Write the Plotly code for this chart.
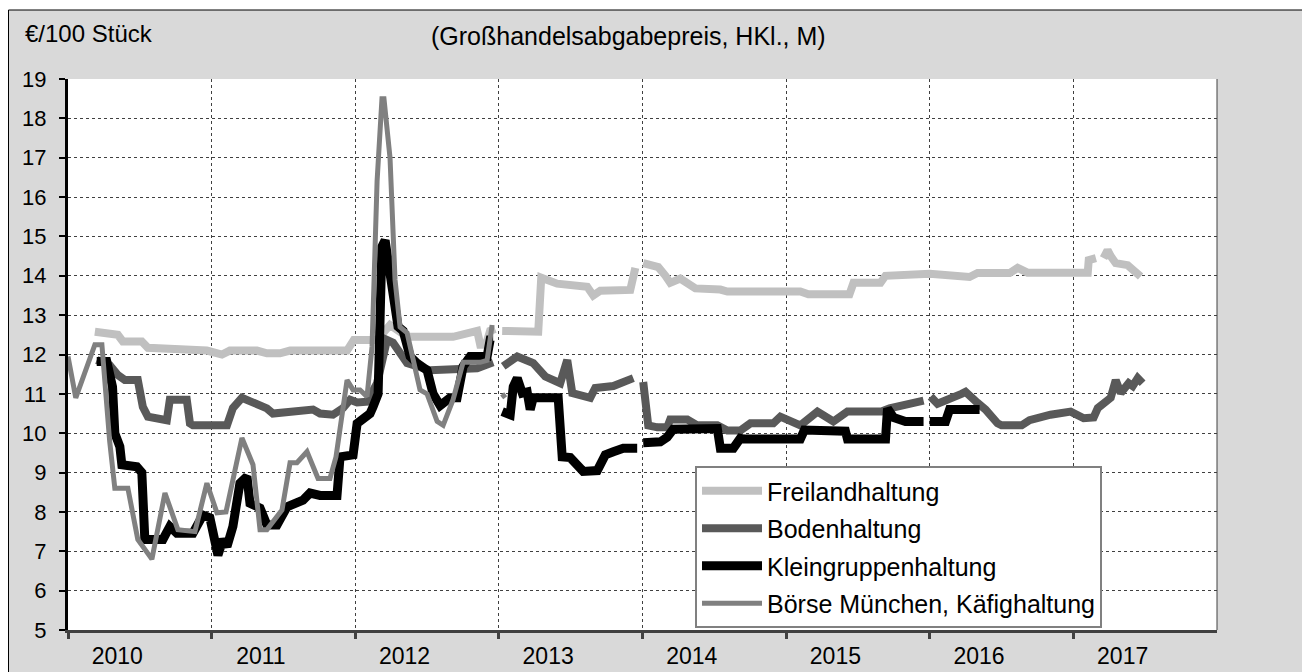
import plotly.graph_objects as go

# ---------------- data (decimal years, €/100 Stück) ----------------
years = [2010, 2011, 2012, 2013, 2014, 2015, 2016, 2017]
year_labels = [str(y) for y in years]

frei_x = [2010.187, 2010.236, 2010.347, 2010.382, 2010.514, 2010.556, 2010.870, 2010.967, 2011.072, 2011.127,
          2011.316, 2011.385, 2011.476, 2011.546, 2011.943, 2011.990, 2012.152, 2012.242, 2012.361, 2012.681,
          2012.849, 2012.870, 2012.910, 2012.939, 2012.974, None,
          2013.023, 2013.274, 2013.295, 2013.406, 2013.615, 2013.657, 2013.706, 2013.915, 2013.950, None,
          2014.005, 2014.110, 2014.160, 2014.193, 2014.263, 2014.368, 2014.542, 2014.591, 2015.099, 2015.155,
          2015.441, 2015.469, 2015.657, 2015.692, 2016.000, 2016.277, 2016.333, 2016.556, 2016.612, 2016.681,
          2017.100, 2017.107, 2017.157, None,
          2017.210, 2017.238, 2017.260, 2017.295, 2017.378, 2017.420, 2017.468]
frei_y = [12.58, 12.55, 12.5, 12.33, 12.33, 12.17, 12.15, 12.1, 12.0, 12.1,
          12.1, 12.03, 12.03, 12.1, 12.1, 12.37, 12.37, 12.75, 12.45, 12.45,
          12.6, 12.25, 12.25, 12.6, 12.65, None,
          12.6, 12.58, 13.95, 13.8, 13.72, 13.5, 13.62, 13.64, 14.2, None,
          14.32, 14.22, 14.0, 13.82, 13.93, 13.68, 13.65, 13.6, 13.6, 13.53,
          13.53, 13.82, 13.82, 14.0, 14.05, 13.97, 14.07, 14.07, 14.2, 14.08,
          14.08, 14.4, 14.45, None,
          14.45, 14.65, 14.5, 14.32, 14.27, 14.15, 13.98]

boden_x = [2010.200, 2010.290, 2010.347, 2010.396, 2010.486, 2010.521, 2010.556, 2010.640, 2010.688, 2010.709,
           2010.827, 2010.849, 2010.870, 2011.107, 2011.148, 2011.211, 2011.288, 2011.337, 2011.385, 2011.427,
           2011.615, 2011.706, 2011.755, 2011.845, 2011.915, 2011.964, 2012.013, 2012.082, 2012.152, 2012.221,
           2012.263, 2012.312, 2012.361, 2012.430, 2012.521, 2012.849, 2012.960, None,
           2013.030, 2013.128, 2013.239, 2013.323, 2013.427, 2013.476, 2013.511, 2013.636, 2013.671, 2013.797,
           2013.936, None,
           2014.005, 2014.040, 2014.103, 2014.172, 2014.193, 2014.312, 2014.382, 2014.521, 2014.591, 2014.681,
           2014.751, 2014.911, 2014.960, 2015.099, 2015.218, 2015.329, 2015.427, 2015.664, 2015.720, 2015.943,
           2015.957, None,
           2016.006, 2016.054, 2016.221, 2016.249, 2016.333, 2016.389, 2016.472, 2016.500, 2016.640, 2016.695,
           2016.841, 2016.981, 2017.072, 2017.141, 2017.170, 2017.260, 2017.295, 2017.330, 2017.385, 2017.413,
           2017.448, 2017.482]
boden_y = [11.86, 11.73, 11.48, 11.35, 11.35, 10.67, 10.42, 10.33, 10.33, 10.85,
           10.85, 10.25, 10.2, 10.2, 10.64, 10.9, 10.8, 10.7, 10.63, 10.5,
           10.55, 10.6, 10.5, 10.47, 10.64, 10.85, 10.78, 10.8, 11.27, 12.37,
           12.3, 12.07, 11.78, 11.7, 11.6, 11.65, 11.8, None,
           11.7, 11.95, 11.78, 11.44, 11.27, 11.86, 11.02, 10.9, 11.15, 11.2,
           11.4, None,
           11.3, 10.2, 10.15, 10.15, 10.35, 10.35, 10.2, 10.2, 10.07, 10.07,
           10.25, 10.25, 10.42, 10.2, 10.55, 10.3, 10.55, 10.55, 10.63, 10.8,
           10.83, None,
           10.93, 10.75, 11.0, 11.05, 10.77, 10.6, 10.25, 10.2, 10.2, 10.33,
           10.47, 10.55, 10.38, 10.4, 10.64, 10.9, 11.35, 11.02, 11.27, 11.2,
           11.4, 11.27]

klein_x = [2010.200, 2010.270, 2010.310, 2010.326, 2010.361, 2010.375, 2010.479, 2010.514, 2010.535, 2010.661,
           2010.709, 2010.758, 2010.870, 2010.939, 2010.988, 2011.044, 2011.079, 2011.107, 2011.148, 2011.197,
           2011.246, 2011.267, 2011.337, 2011.385, 2011.455, 2011.525, 2011.636, 2011.685, 2011.755, 2011.873,
           2011.894, 2011.985, 2012.013, 2012.103, 2012.124, 2012.159, 2012.186, 2012.208, 2012.228, 2012.263,
           2012.298, 2012.333, 2012.382, 2012.430, 2012.500, 2012.542, 2012.591, 2012.661, 2012.709, 2012.751,
           2012.800, 2012.918, 2012.939, 2012.960, None,
           2013.023, 2013.079, 2013.100, 2013.128, 2013.163, 2013.197, 2013.218, 2013.239, 2013.413, 2013.441,
           2013.497, 2013.545, 2013.587, 2013.685, 2013.741, 2013.797, 2013.866, 2013.963, None,
           2014.005, 2014.124, 2014.172, 2014.214, 2014.521, 2014.542, 2014.633, 2014.681, 2014.709, 2015.099,
           2015.127, 2015.413, 2015.427, 2015.692, 2015.706, 2015.748, 2015.831, 2015.957, None,
           2016.000, 2016.110, 2016.138, 2016.347]
klein_y = [11.82, 11.82, 11.18, 10.0, 9.66, 9.2, 9.15, 9.0, 7.3, 7.3,
           7.63, 7.46, 7.46, 7.92, 7.85, 6.9, 7.3, 7.12, 7.63, 8.73,
           8.9, 8.22, 8.1, 7.67, 7.67, 8.13, 8.3, 8.48, 8.42, 8.42,
           9.4, 9.45, 10.25, 10.5, 10.67, 11.0, 14.74, 14.9, 14.4, 13.47,
           12.71, 12.6, 11.95, 11.78, 11.6, 11.0, 10.7, 10.9, 10.9, 11.7,
           11.95, 11.95, 12.37, 12.37, None,
           10.55, 10.47, 11.18, 11.4, 11.02, 11.05, 10.6, 10.9, 10.9, 9.4,
           9.38, 9.15, 9.03, 9.05, 9.45, 9.53, 9.62, 9.62, None,
           9.76, 9.78, 9.9, 10.1, 10.12, 9.62, 9.62, 9.87, 9.85, 9.85,
           10.08, 10.05, 9.85, 9.85, 10.63, 10.4, 10.3, 10.3, None,
           10.3, 10.3, 10.6, 10.6]

boerse_x = [2010.000, 2010.054, 2010.187, 2010.236, 2010.290, 2010.326, 2010.417, 2010.486, 2010.584, 2010.675,
            2010.765, 2010.884, 2010.967, 2011.037, 2011.100, 2011.211, 2011.288, 2011.337, 2011.385, 2011.430,
            2011.490, 2011.546, 2011.594, 2011.664, 2011.741, 2011.824, 2011.866, 2011.943, 2011.985, 2012.033,
            2012.082, 2012.117, 2012.152, 2012.186, 2012.200, 2012.242, 2012.277, 2012.312, 2012.361, 2012.451,
            2012.500, 2012.570, 2012.612, 2012.681, 2012.751, 2012.870, 2012.918, 2012.953, None,
            2013.023, 2013.044]
boerse_y = [11.95, 10.9, 12.25, 12.25, 9.8, 8.6, 8.6, 7.3, 6.8, 8.48,
            7.55, 7.5, 8.73, 7.98, 8.0, 9.88, 9.2, 7.55, 7.55, 7.75,
            8.05, 9.25, 9.25, 9.53, 8.85, 8.85, 9.4, 11.35, 11.1, 11.1,
            10.93, 12.2, 16.4, 18.5, 18.5, 17.0, 13.9, 12.7, 12.55, 11.1,
            11.0, 10.3, 10.2, 10.85, 11.8, 11.8, 11.85, 12.75, None,
            11.0, 10.9]

series = [
    ("Freilandhaltung", frei_x, frei_y, "#c0c0c0", 8),
    ("Bodenhaltung", boden_x, boden_y, "#595959", 8),
    ("Kleingruppenhaltung", klein_x, klein_y, "#000000", 9),
    ("Börse München, Käfighaltung", boerse_x, boerse_y, "#808080", 5),
]

FONT = "Liberation Sans, Arial, sans-serif"

fig = go.Figure()
for i, (name, xs, ys, color, w) in enumerate(series):
    fig.add_trace(go.Scatter(
        x=xs, y=ys, name=name, mode="lines",
        line=dict(color=color, width=w),
        connectgaps=False, hoverinfo="skip",
        legendgroup=f"g{i}",
    ))

# The page body adds an 8px offset; figure is sized so that it fills the window.
OFF = 8
W, H = 1310 - OFF, 672 - OFF
# plot area in screen pixels: x 68..1217, y 79..630
L, R, T, B = 68 - OFF, 1217 - OFF, 79 - OFF, 630 - OFF


def px(xs):  # screen x -> paper
    return (xs - OFF - L) / (R - L)


def py(ys):  # screen y -> paper
    return (B - (ys - OFF)) / (B - T)


shapes = [
    # white strip above the outer frame
    dict(type="rect", xref="paper", yref="paper", x0=px(0), x1=px(1320), y0=py(10), y1=py(0),
         fillcolor="white", line=dict(width=0), layer="below"),
    # white strip right of the outer frame
    dict(type="rect", xref="paper", yref="paper", x0=px(1305), x1=px(1320), y0=py(700), y1=py(0),
         fillcolor="white", line=dict(width=0), layer="below"),
    # outer frame
    dict(type="rect", xref="paper", yref="paper", x0=px(8.5), x1=px(1305), y0=py(700), y1=py(10),
         line=dict(color="#000000", width=1), layer="below"),
    # right border of plot area
    dict(type="line", xref="paper", yref="paper", x0=1, x1=1, y0=0, y1=1,
         line=dict(color="#404040", width=1)),
]

annotations = [
    dict(text="€/100 Stück", xref="paper", yref="paper", x=px(23), y=py(33),
         xanchor="left", yanchor="middle", showarrow=False,
         font=dict(family=FONT, size=24, color="#000")),
    dict(text="(Großhandelsabgabepreis, HKl., M)", xref="paper", yref="paper", x=px(628), y=py(36),
         xanchor="center", yanchor="middle", showarrow=False,
         font=dict(family=FONT, size=25, color="#000")),
]

fig.update_layout(
    width=W, height=H,
    margin=dict(l=L, r=W - R, t=T, b=H - B, pad=0, autoexpand=False),
    paper_bgcolor="#d9d9d9",
    plot_bgcolor="#ffffff",
    font=dict(family=FONT, size=22, color="#000"),
    showlegend=True,
    legend=dict(
        x=px(695), y=py(466), xanchor="left", yanchor="top",
        bgcolor="#ffffff", bordercolor="#808080", borderwidth=2,
        font=dict(family=FONT, size=25, color="#000"),
        itemwidth=60, tracegroupgap=2, traceorder="grouped",
    ),
    shapes=shapes,
    annotations=annotations,
    xaxis=dict(
        range=[2010, 2018],
        automargin=False,
        tickmode="array",
        tickvals=[y + 0.343 for y in years],
        ticktext=year_labels,
        ticks="",
        showgrid=False,
        zeroline=False,
        showline=True, linecolor="#404040", linewidth=3,
        tickfont=dict(family=FONT, size=23),
        ticklabelstandoff=3,
        minor=dict(
            tickmode="array", tickvals=years,
            ticks="outside", ticklen=6, tickwidth=3, tickcolor="#404040",
            showgrid=True, gridcolor="#404040", gridwidth=1, griddash="dot",
        ),
    ),
    yaxis=dict(
        range=[5, 19],
        automargin=False,
        tickmode="linear", tick0=5, dtick=1,
        ticks="outside", ticklen=6, tickwidth=2, tickcolor="#000",
        showgrid=True, gridcolor="#404040", gridwidth=1, griddash="dot",
        zeroline=False,
        showline=True, linecolor="#000", linewidth=3,
        tickfont=dict(family=FONT, size=22),
        ticklabelstandoff=8,
    ),
)

fig.write_html("out.html")
